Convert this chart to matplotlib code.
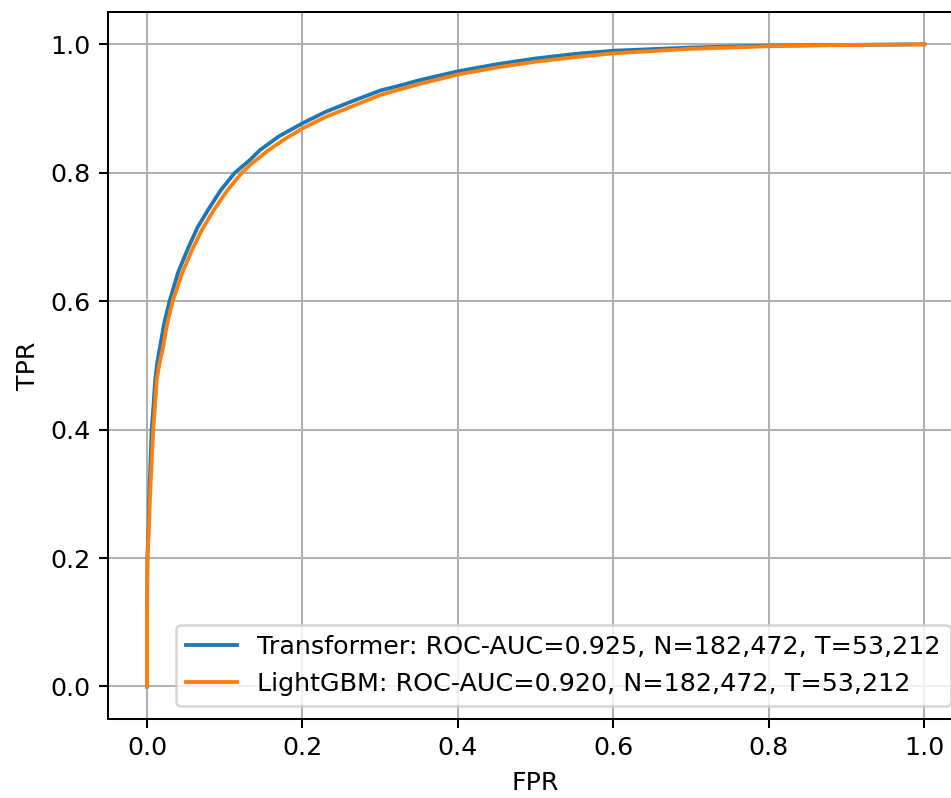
import matplotlib
matplotlib.use('Agg')
import matplotlib.pyplot as plt

# ROC points (fpr, tpr)
tf_fpr = [0.0, 0.0, 0.0005, 0.002, 0.003, 0.0045, 0.006, 0.0085, 0.0105, 0.013,
          0.016, 0.022, 0.029, 0.040, 0.053, 0.065, 0.080, 0.095, 0.113,
          0.1325, 0.145, 0.170, 0.200, 0.230, 0.261, 0.300, 0.326, 0.350,
          0.400, 0.450, 0.500, 0.550, 0.600, 0.700, 0.800, 0.900, 1.0]
tf_tpr = [0.0, 0.10, 0.200, 0.250, 0.300, 0.350, 0.400, 0.440, 0.477, 0.503,
          0.524, 0.565, 0.600, 0.645, 0.683, 0.715, 0.745, 0.773, 0.800,
          0.820, 0.835, 0.857, 0.877, 0.895, 0.910, 0.928, 0.936, 0.944,
          0.958, 0.969, 0.978, 0.985, 0.990, 0.995, 0.998, 0.999, 1.0]

lgb_fpr = [0.0, 0.0, 0.0005, 0.0025, 0.004, 0.006, 0.008, 0.0105, 0.0125, 0.016,
           0.020, 0.026, 0.033, 0.045, 0.058, 0.071, 0.086, 0.103, 0.122,
           0.1325, 0.156, 0.178, 0.200, 0.230, 0.261, 0.300, 0.326, 0.350,
           0.400, 0.450, 0.500, 0.550, 0.600, 0.700, 0.800, 0.900, 1.0]
lgb_tpr = [0.0, 0.10, 0.200, 0.250, 0.300, 0.350, 0.400, 0.440, 0.477, 0.503,
           0.524, 0.565, 0.600, 0.643, 0.680, 0.712, 0.742, 0.772, 0.800,
           0.812, 0.835, 0.853, 0.869, 0.887, 0.902, 0.921, 0.930, 0.938,
           0.953, 0.964, 0.973, 0.980, 0.986, 0.993, 0.997, 0.999, 1.0]

tf_label = 'Transformer: ROC-AUC=0.925, N=182,472, T=53,212'
lgb_label = 'LightGBM: ROC-AUC=0.920, N=182,472, T=53,212'

DPI = 183
fig = plt.figure(figsize=(952 / DPI, 798 / DPI), dpi=DPI)
# axes run past the right edge, as in the (cropped) reference
ax = fig.add_axes([0.1136, 0.0995, 0.8982, 0.8852])

ax.plot(tf_fpr, tf_tpr, label=tf_label)
ax.plot(lgb_fpr, lgb_tpr, label=lgb_label)
ax.set_xlabel('FPR')
ax.set_ylabel('TPR')
ax.grid(True)
ax.legend(loc='lower right')

fig.savefig('out.png', dpi=DPI)
